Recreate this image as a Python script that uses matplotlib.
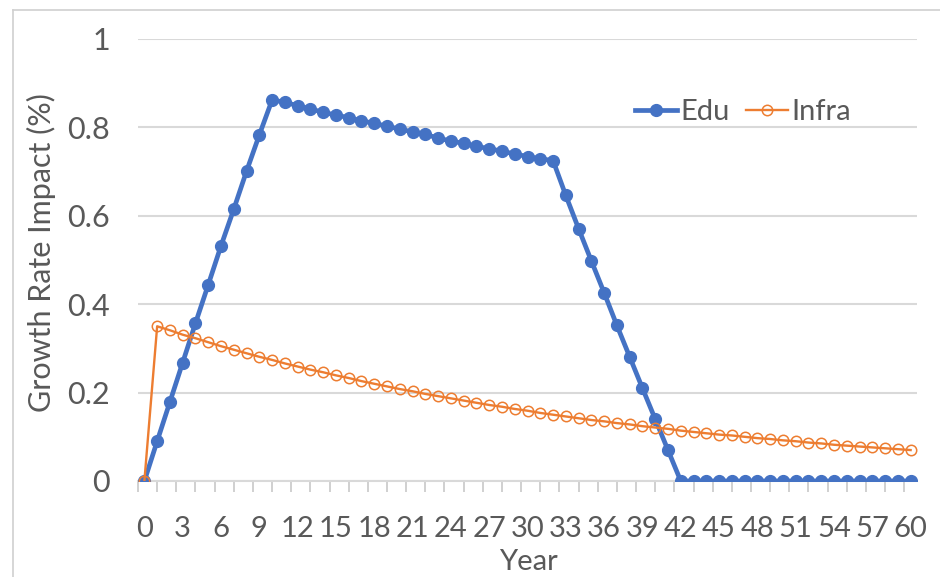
import matplotlib
matplotlib.use("Agg")
import matplotlib.pyplot as plt
from matplotlib.lines import Line2D

plt.rcParams['font.family'] = ['Lato', 'DejaVu Sans']

# data
years = list(range(0, 61))
edu = [0.000, 0.090, 0.179, 0.268, 0.357, 0.444, 0.532, 0.615, 0.701, 0.783,
       0.862, 0.857, 0.849, 0.842, 0.834, 0.828, 0.822, 0.815, 0.809, 0.803,
       0.796, 0.790, 0.784, 0.776, 0.769, 0.764, 0.757, 0.752, 0.746, 0.740,
       0.734, 0.729, 0.725, 0.646, 0.571, 0.498, 0.426, 0.352, 0.281, 0.210,
       0.140, 0.070, 0.000, 0.000, 0.000, 0.000, 0.000, 0.000, 0.000, 0.000,
       0.000, 0.000, 0.000, 0.000, 0.000, 0.000, 0.000, 0.000, 0.000, 0.000,
       0.000]
infra = [0.000, 0.350, 0.341, 0.331, 0.323, 0.314, 0.305, 0.297, 0.289, 0.281,
         0.274, 0.266, 0.259, 0.252, 0.246, 0.239, 0.233, 0.226, 0.220, 0.214,
         0.208, 0.203, 0.197, 0.192, 0.187, 0.182, 0.177, 0.172, 0.168, 0.163,
         0.159, 0.154, 0.150, 0.146, 0.142, 0.138, 0.135, 0.131, 0.128, 0.124,
         0.121, 0.118, 0.114, 0.111, 0.108, 0.105, 0.103, 0.100, 0.097, 0.095,
         0.092, 0.090, 0.087, 0.085, 0.082, 0.080, 0.078, 0.076, 0.074, 0.072,
         0.070]
x_labels = [str(v) for v in range(0, 61, 3)]
y_ticks = [0, 0.2, 0.4, 0.6, 0.8, 1]
y_labels = ['0', '0.2', '0.4', '0.6', '0.8', '1']

BLUE = '#4472C4'
ORANGE = '#ED7D31'
TEXT = '#595959'
GRID = '#D9D9D9'

fig = plt.figure(figsize=(9.4, 5.77), dpi=100)
ax = fig.add_axes([138 / 940, 1 - 481 / 577, (917 - 138) / 940, (481 - 39) / 577])

ax.plot(years, edu, color=BLUE, lw=3.4, marker='o', markersize=8.5,
        markerfacecolor=BLUE, markeredgecolor=BLUE, label='Edu', zorder=3)
ax.plot(years, infra, color=ORANGE, lw=1.7, marker='o', markersize=7.5,
        markerfacecolor='none', markeredgecolor=ORANGE, markeredgewidth=1.1,
        label='Infra', zorder=4)

ax.set_xlim(-0.5, 60.5)
ax.set_ylim(0, 1)

ax.set_xticks(range(0, 61, 3))
ax.set_xticklabels(x_labels)
ax.set_xticks([-0.5 + 1.5 * k for k in range(41)], minor=True)
ax.tick_params(axis='x', which='major', length=0, pad=25, labelsize=21, labelcolor=TEXT)
ax.tick_params(axis='x', which='minor', length=8, width=1.2, color='#C8C8C8')

ax.set_yticks(y_ticks)
ax.set_yticklabels(y_labels)
ax.tick_params(axis='y', length=0, pad=20, labelsize=22, labelcolor=TEXT)

ax.grid(axis='y', color=GRID, lw=1.5)
ax.set_axisbelow(True)
for side in ['top', 'right', 'left']:
    ax.spines[side].set_visible(False)
ax.spines['bottom'].set_color(GRID)
ax.spines['bottom'].set_linewidth(1.5)
ax.spines['bottom'].set_zorder(1)

ax.set_xlabel('Year', fontsize=21, color=TEXT)
ax.set_ylabel('Growth Rate Impact (%)', fontsize=22, color=TEXT)
ax.xaxis.set_label_coords(0.5006, (481 - 562) / 442)
ax.yaxis.set_label_coords((41 - 138) / 779, (481 - 253) / 442)
ax.xaxis.label.set_va('center')
ax.yaxis.label.set_va('center')

leg = ax.legend(loc='center', bbox_to_anchor=(743 / 940, 1 - 112 / 577),
                bbox_transform=fig.transFigure, ncol=2, frameon=False,
                fontsize=21, handlelength=1.45, handletextpad=0.12,
                columnspacing=0.55, borderpad=0)
for t in leg.get_texts():
    t.set_color(TEXT)

# light page frame from the source screenshot
fig.add_artist(Line2D([13 / 940, 13 / 940], [0, 1 - 10 / 577],
                      transform=fig.transFigure, color='#D0D0D0', lw=1.2))
fig.add_artist(Line2D([13 / 940, 1], [1 - 10 / 577, 1 - 10 / 577],
                      transform=fig.transFigure, color='#D0D0D0', lw=1.2))

fig.savefig('out.png', dpi=100)
